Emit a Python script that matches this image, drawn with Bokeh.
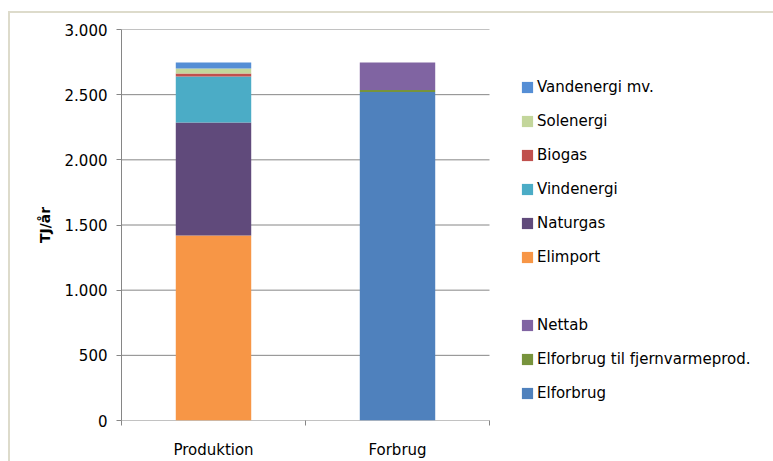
from bokeh.plotting import figure
from bokeh.models import ColumnDataSource, FixedTicker, Legend, LegendItem
from bokeh.embed import file_html
from bokeh.resources import INLINE

# ---- data ----
categories = ["Produktion", "Forbrug"]
elimport = [1420, 0]
naturgas = [867, 0]
vindenergi = [353, 0]
biogas = [23, 0]
solenergi = [38, 0]
vandenergi = [46, 0]
elforbrug = [0, 2520]
elforbrug_fjv = [0, 15]
nettab = [0, 212]

series_keys = ["elimport", "naturgas", "vindenergi", "biogas", "solenergi", "vandenergi",
               "elforbrug", "elforbrug_fjv", "nettab"]
series_labels = ["Elimport", "Naturgas", "Vindenergi", "Biogas", "Solenergi", "Vandenergi mv.",
                 "Elforbrug", "Elforbrug til fjernvarmeprod.", "Nettab"]
series_colors = ["#F79646", "#604A7B", "#4BACC6", "#C0504D", "#C3D69B", "#558ED5",
                 "#4F81BD", "#77933C", "#8064A2"]
legend_order = ["Vandenergi mv.", "Solenergi", "Biogas", "Vindenergi", "Naturgas", "Elimport",
                None, "Nettab", "Elforbrug til fjernvarmeprod.", "Elforbrug"]

y_ticks = [0, 500, 1000, 1500, 2000, 2500, 3000]
y_tick_labels = ["0", "500", "1.000", "1.500", "2.000", "2.500", "3.000"]
y_axis_label = "TJ/år"

FONT = "DejaVu Sans"
GRAY = "#868686"
TEXT = "#000000"
FRAME_BORDER = "#DDDBCB"

W, H = 773, 461
PLOT_LEFT, PLOT_RIGHT, PLOT_TOP, PLOT_BOTTOM = 121, 489, 29, 420
n = len(categories)
# the frame extends to the right edge so the legend can live inside it;
# the category area occupies the first (PLOT_RIGHT - PLOT_LEFT) pixels
x_end = n * (W - PLOT_LEFT) / (PLOT_RIGHT - PLOT_LEFT)

x_pos = [i + 0.5 for i in range(n)]
src = ColumnDataSource(dict(
    x=x_pos,
    elimport=elimport, naturgas=naturgas, vindenergi=vindenergi, biogas=biogas,
    solenergi=solenergi, vandenergi=vandenergi, elforbrug=elforbrug,
    elforbrug_fjv=elforbrug_fjv, nettab=nettab,
))

p = figure(width=W, height=H, x_range=(0, x_end), y_range=(0, 3000),
           output_backend="svg", toolbar_location=None,
           min_border_left=PLOT_LEFT, min_border_right=0,
           min_border_top=PLOT_TOP, min_border_bottom=H - PLOT_BOTTOM)
p.border_fill_alpha = 0
p.background_fill_alpha = 0
p.outline_line_color = None
p.styles = {"box-shadow": ("inset 0 11px 0 #ffffff, inset 8px 0 0 #ffffff, "
                           f"inset 0 13px 0 {FRAME_BORDER}, inset 10px 0 0 {FRAME_BORDER}")}

# horizontal gridlines across the category area only
p.segment(x0=[0] * len(y_ticks), x1=[n] * len(y_ticks), y0=y_ticks, y1=y_ticks,
          line_color=GRAY, line_width=1, level="underlay")

renderers = p.vbar_stack(series_keys, x="x", width=0.41, source=src,
                         fill_color=series_colors, line_alpha=0)
blank = p.vbar(x=[], top=[], width=0.1, fill_alpha=0, line_alpha=0)

# y axis
ya = p.yaxis[0]
ya.ticker = FixedTicker(ticks=y_ticks)
ya.major_label_overrides = {t: l for t, l in zip(y_ticks, y_tick_labels)}
ya.axis_line_color = GRAY
ya.major_tick_line_color = GRAY
ya.major_tick_out = 5
ya.major_tick_in = 0
ya.minor_tick_line_color = None
ya.major_label_standoff = 9
ya.major_label_text_font = FONT
ya.major_label_text_font_size = "15px"
ya.major_label_text_color = TEXT
ya.axis_label = y_axis_label
ya.axis_label_text_font = FONT
ya.axis_label_text_font_size = "14px"
ya.axis_label_text_font_style = "bold"
ya.axis_label_text_color = TEXT
ya.axis_label_standoff = 9

# x axis (line drawn by the 0 gridline)
xa = p.xaxis[0]
xa.ticker = FixedTicker(ticks=x_pos, minor_ticks=list(range(n + 1)))
xa.major_label_overrides = {x: c for x, c in zip(x_pos, categories)}
xa.axis_line_color = None
xa.major_tick_line_color = None
xa.major_tick_out = 0
xa.major_tick_in = 0
xa.minor_tick_line_color = GRAY
xa.minor_tick_out = 5
xa.minor_tick_in = 0
xa.major_label_standoff = 15
xa.major_label_text_font = FONT
xa.major_label_text_font_size = "15px"
xa.major_label_text_color = TEXT

p.xgrid.visible = False
p.ygrid.visible = False

by_label = dict(zip(series_labels, renderers))
items = []
for name in legend_order:
    if name is None:
        items.append(LegendItem(label=" ", renderers=[blank]))
    else:
        items.append(LegendItem(label=name, renderers=[by_label[name]]))

legend = Legend(items=items, location=(399, 17), margin=0, padding=0,
                spacing=14, label_height=20, glyph_height=14, glyph_width=14,
                label_standoff=3, border_line_alpha=0, background_fill_alpha=0,
                label_text_font=FONT, label_text_font_size="15px", label_text_color=TEXT)
p.add_layout(legend, "center")

open("out.html", "w").write(file_html(p, INLINE))
